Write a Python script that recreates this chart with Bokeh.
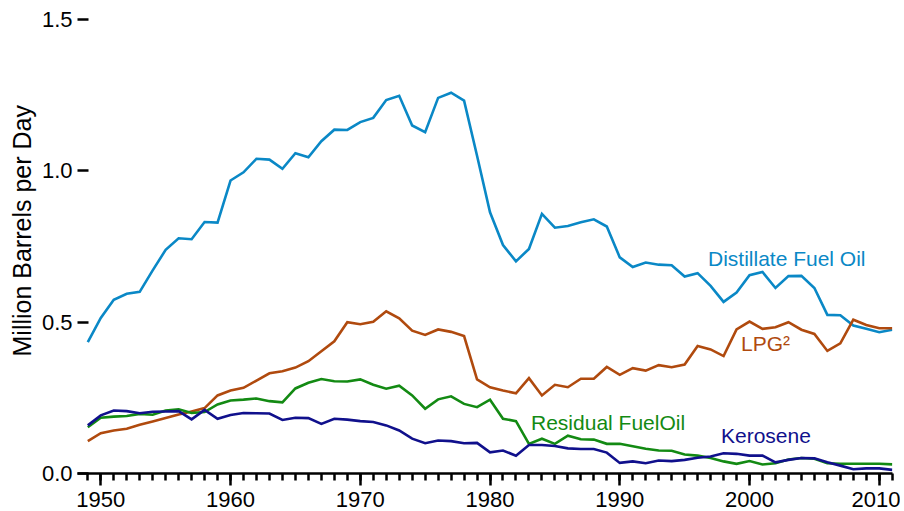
from bokeh.plotting import figure
from bokeh.models import Range1d, FixedTicker, PrintfTickFormatter, Label, Title
from bokeh.embed import file_html
from bokeh.resources import INLINE

years = list(range(1949, 2012))

distillate = [0.434, 0.514, 0.574, 0.594, 0.600, 0.671, 0.739, 0.777, 0.774, 0.831,
              0.829, 0.968, 0.995, 1.040, 1.037, 1.007, 1.058, 1.045, 1.098, 1.136,
              1.135, 1.161, 1.175, 1.234, 1.248, 1.150, 1.128, 1.241, 1.258, 1.232,
              1.050, 0.863, 0.755, 0.701, 0.742, 0.858, 0.812, 0.818, 0.830, 0.840,
              0.816, 0.714, 0.682, 0.697, 0.690, 0.688, 0.651, 0.662, 0.620, 0.567,
              0.598, 0.655, 0.666, 0.613, 0.652, 0.653, 0.613, 0.524, 0.523, 0.489,
              0.478, 0.467, 0.475]

lpg = [0.107, 0.133, 0.142, 0.148, 0.161, 0.172, 0.183, 0.195, 0.205, 0.216,
       0.258, 0.274, 0.283, 0.307, 0.331, 0.338, 0.350, 0.371, 0.404, 0.437,
       0.500, 0.493, 0.501, 0.536, 0.513, 0.472, 0.458, 0.476, 0.468, 0.454,
       0.311, 0.285, 0.274, 0.265, 0.315, 0.258, 0.293, 0.285, 0.313, 0.313,
       0.352, 0.326, 0.348, 0.340, 0.358, 0.351, 0.360, 0.421, 0.410, 0.388,
       0.476, 0.502, 0.478, 0.483, 0.500, 0.475, 0.461, 0.405, 0.430, 0.508,
       0.491, 0.480, 0.480]

residual = [0.153, 0.184, 0.188, 0.190, 0.197, 0.194, 0.208, 0.212, 0.200, 0.203,
            0.228, 0.241, 0.244, 0.248, 0.239, 0.235, 0.281, 0.300, 0.312, 0.305,
            0.304, 0.311, 0.293, 0.280, 0.290, 0.258, 0.214, 0.245, 0.255, 0.230,
            0.219, 0.244, 0.181, 0.173, 0.098, 0.115, 0.098, 0.125, 0.113, 0.112,
            0.098, 0.098, 0.090, 0.082, 0.076, 0.075, 0.063, 0.059, 0.051, 0.040,
            0.032, 0.041, 0.030, 0.034, 0.046, 0.051, 0.049, 0.034, 0.032, 0.032,
            0.032, 0.032, 0.030]

kerosene = [0.159, 0.192, 0.208, 0.206, 0.199, 0.204, 0.205, 0.206, 0.179, 0.210,
            0.181, 0.193, 0.200, 0.199, 0.198, 0.177, 0.184, 0.183, 0.164, 0.181,
            0.178, 0.173, 0.170, 0.159, 0.142, 0.115, 0.100, 0.109, 0.107, 0.100,
            0.101, 0.070, 0.076, 0.059, 0.094, 0.094, 0.091, 0.083, 0.081, 0.081,
            0.069, 0.035, 0.040, 0.034, 0.043, 0.041, 0.045, 0.052, 0.056, 0.067,
            0.065, 0.059, 0.059, 0.037, 0.045, 0.051, 0.050, 0.037, 0.026, 0.014,
            0.017, 0.017, 0.012]

series_names = ["Distillate Fuel Oil", "LPG\u00b2", "Residual FuelOil", "Kerosene"]
y_ticks = [0.0, 0.5, 1.0, 1.5]
x_major_ticks = [1950, 1960, 1970, 1980, 1990, 2000, 2010]
y_title = "Million Barrels per Day"

colors = ["#0a88c6", "#b04a0e", "#138a13", "#10108c"]
FONT = "Liberation Sans"

p = figure(width=900, height=510, output_backend="svg", toolbar_location=None,
           x_range=Range1d(1948.206, 2011.02), y_range=Range1d(0, 1.5),
           min_border_left=77, min_border_right=8, min_border_top=19,
           min_border_bottom=37)
p.outline_line_color = None
p.xgrid.visible = False
p.ygrid.visible = False
p.background_fill_color = "white"
p.border_fill_color = "white"

for ys, c in zip([distillate, lpg, residual, kerosene], colors):
    p.line(years, ys, line_color=c, line_width=2.6, line_join="miter")

# x axis
xa = p.xaxis[0]
xa.ticker = FixedTicker(ticks=x_major_ticks, minor_ticks=years)
xa.formatter = PrintfTickFormatter(format="%d")
xa.axis_line_width = 2.5
xa.axis_line_color = "black"
xa.major_tick_line_width = 2.5
xa.minor_tick_line_width = 2.5
xa.major_tick_out = 12
xa.major_tick_in = 0
xa.minor_tick_out = 7
xa.minor_tick_in = 0
xa.major_label_standoff = 6
xa.major_label_text_font = FONT
xa.major_label_text_font_size = "22px"
xa.major_label_text_color = "black"

# y axis
ya = p.yaxis[0]
ya.ticker = FixedTicker(ticks=y_ticks)
ya.formatter = PrintfTickFormatter(format="%.1f")
ya.axis_line_color = None
ya.major_tick_line_width = 2.5
ya.major_tick_in = 11
ya.major_tick_out = 0
ya.minor_tick_line_color = None
ya.major_label_standoff = 5
ya.major_label_text_font = FONT
ya.major_label_text_font_size = "22px"
ya.major_label_text_color = "black"

# y title
p.add_layout(Title(text=y_title, align="left", offset=117, standoff=6,
                   text_font=FONT, text_font_size="25px", text_font_style="normal",
                   text_color="black"), "left")

# series labels
label_pos = [(1996.8, 0.709), (1999.35, 0.429), (1983.16, 0.170), (1997.8, 0.124)]
for name, (lx, ly), c in zip(series_names, label_pos, colors):
    p.add_layout(Label(x=lx, y=ly, text=name, text_align="left",
                       text_baseline="alphabetic", text_font=FONT,
                       text_font_size="21px", text_color=c))

open("out.html", "w").write(file_html(p, INLINE))
